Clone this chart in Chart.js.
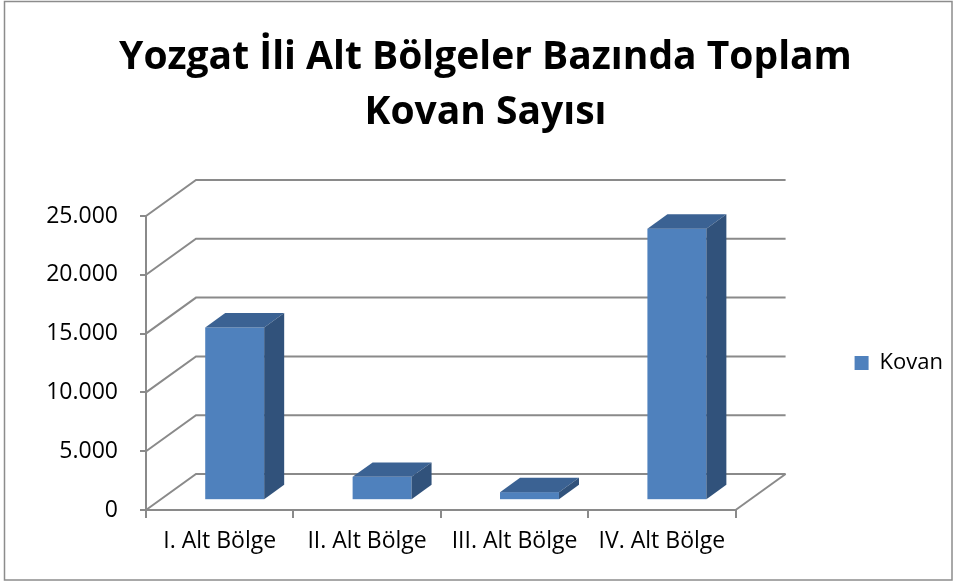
<!DOCTYPE html>
<html>
<head>
<meta charset="utf-8">
<script src="https://cdn.jsdelivr.net/npm/chart.js@4/dist/chart.umd.min.js"></script>
<style>
  html, body { margin: 0; padding: 0; background: #fff; }
  canvas { display: block; }
</style>
</head>
<body>
<canvas id="kovanChart" width="958" height="583"></canvas>
<script>
// Data
const categories = ["I. Alt Bölge", "II. Alt Bölge", "III. Alt Bölge", "IV. Alt Bölge"];
const kovanValues = [14600, 1900, 600, 23000];
const seriesName = "Kovan";
const titleLines = ["Yozgat İli Alt Bölgeler Bazında Toplam", "Kovan Sayısı"];

// 3D look
const DEPTH_X = 50, DEPTH_Y = -36;
const GRID = "#8a8a8a";
const FRONT = "#4f81bd", TOP = "#3b6293", SIDE = "#31527b";
const FONT = "'Open Sans', Lato, sans-serif";

function fmt(v) {
  return String(v).replace(/\B(?=(\d{3})+(?!\d))/g, ".");
}

// draws back wall, floor and 3D bars
const threeD = {
  id: "threeD",
  beforeDraw(chart) {
    const c = chart.ctx;
    c.save();
    c.strokeStyle = "#8c8c8c";
    c.lineWidth = 1.5;
    c.strokeRect(4.5, 1.5, 947.5, 578.5);
    c.restore();
  },
  beforeDatasetsDraw(chart) {
    const c = chart.ctx;
    const y = chart.scales.y;
    const L = chart.chartArea.left, R = chart.chartArea.right, B = chart.chartArea.bottom;
    c.save();
    c.strokeStyle = GRID;
    c.lineWidth = 2;
    // back wall gridlines + left side wall
    y.ticks.forEach(t => {
      const py = y.getPixelForValue(t.value);
      c.beginPath();
      c.moveTo(L, py);
      c.lineTo(L + DEPTH_X, py + DEPTH_Y);
      c.lineTo(R + DEPTH_X, py + DEPTH_Y);
      c.stroke();
    });
    // floor right edge
    c.beginPath();
    c.moveTo(R, B);
    c.lineTo(R + DEPTH_X, B + DEPTH_Y);
    c.stroke();

    const meta = chart.getDatasetMeta(0);
    const offX = DEPTH_X * 0.3, offY = DEPTH_Y * 0.3;
    const dX = DEPTH_X * 0.4, dY = DEPTH_Y * 0.4;
    meta.data.forEach((bar, i) => {
      const w = bar.width;
      const x0 = bar.x - w / 2 + offX, x1 = x0 + w;
      const yb = y.getPixelForValue(0) + offY;
      const yt = y.getPixelForValue(kovanValues[i]) + offY;
      c.fillStyle = FRONT;
      c.fillRect(x0, yt, w, yb - yt);
      c.fillStyle = TOP;
      c.beginPath();
      c.moveTo(x0, yt); c.lineTo(x0 + dX, yt + dY); c.lineTo(x1 + dX, yt + dY); c.lineTo(x1, yt);
      c.closePath(); c.fill();
      c.fillStyle = SIDE;
      c.beginPath();
      c.moveTo(x1, yt); c.lineTo(x1 + dX, yt + dY); c.lineTo(x1 + dX, yb + dY); c.lineTo(x1, yb);
      c.closePath(); c.fill();
    });
    c.restore();
  },
  beforeDatasetDraw() {
    return false; // bars are drawn above in 3D
  }
};

const ctx = document.getElementById("kovanChart").getContext("2d");
const chart = new Chart(ctx, {
  type: "bar",
  data: {
    labels: categories,
    datasets: [{
      label: seriesName,
      data: kovanValues,
      backgroundColor: FRONT,
      barPercentage: 1,
      categoryPercentage: 0.4
    }]
  },
  plugins: [threeD],
  options: {
    responsive: false,
    animation: false,
    events: [],
    layout: { padding: { left: 18, right: 5, top: 30, bottom: 10 } },
    plugins: {
      title: {
        display: true,
        text: titleLines,
        color: "#000",
        font: { family: FONT, size: 39, weight: "bold", lineHeight: 1.41 },
        padding: { top: 0, bottom: 76 }
      },
      legend: {
        position: "right",
        fullSize: false,
        labels: {
          boxWidth: 14,
          boxHeight: 14,
          padding: 119,
          color: "#000",
          font: { family: FONT, size: 22 }
        }
      },
      tooltip: { enabled: false }
    },
    scales: {
      x: {
        afterFit: s => { s.height = 63; },
        grid: { offset: true, drawOnChartArea: false, drawTicks: true, tickLength: 8, color: GRID, lineWidth: 2 },
        border: { display: true, color: GRID, width: 2 },
        ticks: { color: "#000", padding: 10, font: { family: FONT, size: 23 } }
      },
      y: {
        min: 0,
        max: 25000,
        afterFit: s => { s.width = 128; },
        grid: { drawOnChartArea: false, drawTicks: true, tickLength: 6, color: GRID, lineWidth: 2 },
        border: { display: true, color: GRID, width: 2 },
        ticks: { stepSize: 5000, color: "#000", padding: 22, font: { family: FONT, size: 23 }, callback: v => fmt(v) }
      }
    }
  }
});
</script>
</body>
</html>
